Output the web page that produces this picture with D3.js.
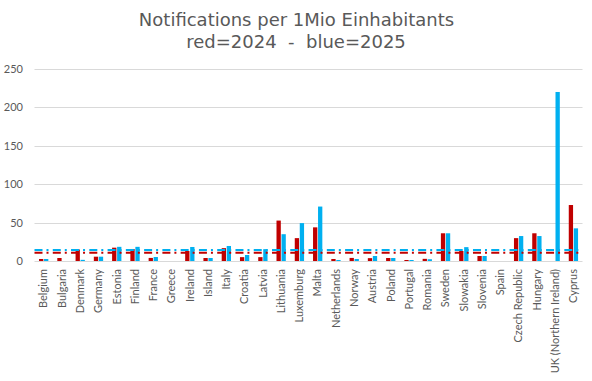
<!DOCTYPE html>
<html>
<head>
<meta charset="utf-8">
<script src="https://cdn.jsdelivr.net/npm/d3@7/dist/d3.min.js"></script>
<style>
  html, body { margin: 0; padding: 0; background: #fff; }
  svg { display: block; }
</style>
</head>
<body>
<svg id="chart" width="592" height="381"></svg>
<script>
const categories = ["Belgium","Bulgaria","Denmark","Germany","Estonia","Finland","France","Greece","Ireland","Island","Italy","Croatia","Latvia","Lithuania","Luxemburg","Malta","Netherlands","Norway","Austria","Poland","Portugal","Romania","Sweden","Slowakia","Slovenia","Spain","Czech Republic","Hungary","UK (Northern Ireland)","Cyprus"];
const values2024 = [2.6,3.9,15,5.6,17.3,15.6,4,0,13,3.9,16.7,5,5,52.5,29.7,43.7,2.6,4,3.7,3.9,1.3,2.8,36,13,6.5,0,29.7,36,0,72.7];
const values2025 = [2.6,0,1.5,5.6,18.4,18.4,5.2,0,18.2,3.9,19.5,7.8,15.4,34.8,49.2,70.7,1.3,2.6,6.5,3.9,1.3,2.3,36,18,6.5,0,32.4,32.4,219.5,42.4];
const yTicks = [0,50,100,150,200,250];
const avg2024 = 10.8;
const avg2025 = 14.2;
const titleLines = ["Notifications per 1Mio Einhabitants", "red=2024  -  blue=2025"];

(function () {
const svg = d3.select("#chart");
const pL = 34.5, pR = 582.5, pT = 68.5, pB = 261;
const x = d3.scaleBand().domain(categories).range([pL, pR]).padding(0);
const y = d3.scaleLinear().domain([0, 250]).range([pB, pT]);
const red = "#C00000", blue = "#00B0F0";

// title
svg.append("text").attr("x", 296.5).attr("y", 26).attr("text-anchor", "middle")
  .attr("font-family", "DejaVu Sans").attr("font-size", 18).attr("fill", "#595959").text(titleLines[0]);
svg.append("text").attr("x", 296).attr("y", 48).attr("text-anchor", "middle")
  .attr("font-family", "DejaVu Sans").attr("font-size", 18).attr("fill", "#595959")
  .style("white-space", "pre").text(titleLines[1]);

// gridlines
svg.append("g").selectAll("line").data(yTicks.filter(d => d > 0)).join("line")
  .attr("x1", pL).attr("x2", pR)
  .attr("y1", d => Math.round(y(d)) + 0.5).attr("y2", d => Math.round(y(d)) + 0.5)
  .attr("stroke", "#d9d9d9").attr("stroke-width", 1);

// y axis
const yAxis = d3.axisLeft(y).tickValues(yTicks).tickSize(0).tickPadding(0);
const gy = svg.append("g").attr("transform", "translate(23,0)").call(yAxis);
gy.select(".domain").remove();
gy.selectAll("text").attr("font-family", "Lato").attr("font-size", 11).attr("fill", "#595959").attr("x", 0);

// bars
const bw = 4.3;
const gb = svg.append("g");
gb.selectAll("rect.r").data(categories).join("rect").attr("class", "r")
  .attr("x", d => x(d) + x.bandwidth() / 2 - bw - 0.3)
  .attr("width", bw)
  .attr("y", (d, i) => y(values2024[i]))
  .attr("height", (d, i) => pB - y(values2024[i]))
  .attr("fill", red);
gb.selectAll("rect.b").data(categories).join("rect").attr("class", "b")
  .attr("x", d => x(d) + x.bandwidth() / 2 + 0.4)
  .attr("width", bw)
  .attr("y", (d, i) => y(values2025[i]))
  .attr("height", (d, i) => pB - y(values2025[i]))
  .attr("fill", blue);

// baseline axis
svg.append("line").attr("x1", pL).attr("x2", pR).attr("y1", pB + 0.5).attr("y2", pB + 0.5)
  .attr("stroke", "#d9d9d9").attr("stroke-width", 1);

// average lines
svg.append("line").attr("x1", pL).attr("x2", pR).attr("y1", y(avg2025)).attr("y2", y(avg2025))
  .attr("stroke", blue).attr("stroke-width", 2).attr("stroke-dasharray", "8,4,2,4.27");
svg.append("line").attr("x1", pL).attr("x2", pR).attr("y1", y(avg2024)).attr("y2", y(avg2024))
  .attr("stroke", red).attr("stroke-width", 2).attr("stroke-dasharray", "8,4,2,4.27");

// x labels
const xAxis = d3.axisBottom(x).tickSize(0).tickPadding(0);
const gx = svg.append("g").attr("transform", "translate(0," + pB + ")").call(xAxis);
gx.select(".domain").remove();
gx.selectAll("text")
  .attr("font-family", "Lato").attr("font-size", 11).attr("fill", "#595959")
  .attr("text-anchor", "end")
  .attr("transform", "rotate(-90)")
  .attr("x", -8).attr("y", 0).attr("dy", "0.35em");
})();
</script>
</body>
</html>
